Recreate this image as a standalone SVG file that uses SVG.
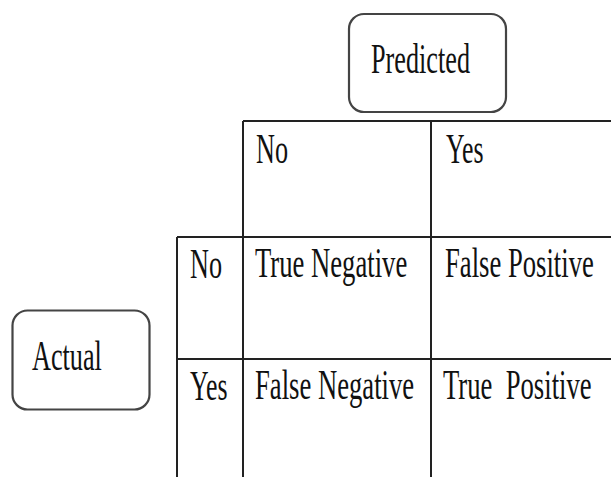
<svg xmlns="http://www.w3.org/2000/svg" width="611" height="477" viewBox="0 0 611 477">
<style>
.t{font-family:"Liberation Serif","Times New Roman",serif;font-size:43px;fill:#111;}
.box{fill:#fff;stroke:#444;stroke-width:2.2;}
.g{stroke:#222;stroke-width:2;fill:none;}
</style>
<rect width="611" height="477" fill="#fff"/>
<g id="predicted">
<rect class="box" x="349" y="14" width="157" height="98" rx="15"/>
<text class="t" transform="matrix(0.61,0,0,1,371,73)">Predicted</text>
</g>
<g id="actual">
<rect class="box" x="12.5" y="310.5" width="137" height="99" rx="15"/>
<text class="t" transform="matrix(0.61,0,0,1,32,370)">Actual</text>
</g>
<g id="grid">
<line class="g" x1="243" y1="121" x2="611" y2="121"/>
<line class="g" x1="177" y1="237" x2="611" y2="237"/>
<line class="g" x1="177" y1="359" x2="611" y2="359"/>
<line class="g" x1="177" y1="237" x2="177" y2="477"/>
<line class="g" x1="243" y1="121" x2="243" y2="477"/>
<line class="g" x1="431" y1="121" x2="431" y2="477"/>
</g>
<g id="pred-no"><text class="t" transform="matrix(0.61,0,0,1,256,163)">No</text></g>
<g id="pred-yes"><text class="t" transform="matrix(0.6,0,0,1,446,163)">Yes</text></g>
<g id="act-no"><text class="t" transform="matrix(0.61,0,0,1,190,278)">No</text></g>
<g id="act-yes"><text class="t" transform="matrix(0.6,0,0,1,190,400)">Yes</text></g>
<g id="tn"><text class="t" transform="matrix(0.62,0,0,1,255,277)">True Negative</text></g>
<g id="fp"><text class="t" transform="matrix(0.62,0,0,1,445,277)">False Positive</text></g>
<g id="fn"><text class="t" transform="matrix(0.62,0,0,1,255,399)">False Negative</text></g>
<g id="tp"><text class="t" transform="matrix(0.62,0,0,1,443,399)" xml:space="preserve">True  Positive</text></g>
</svg>
